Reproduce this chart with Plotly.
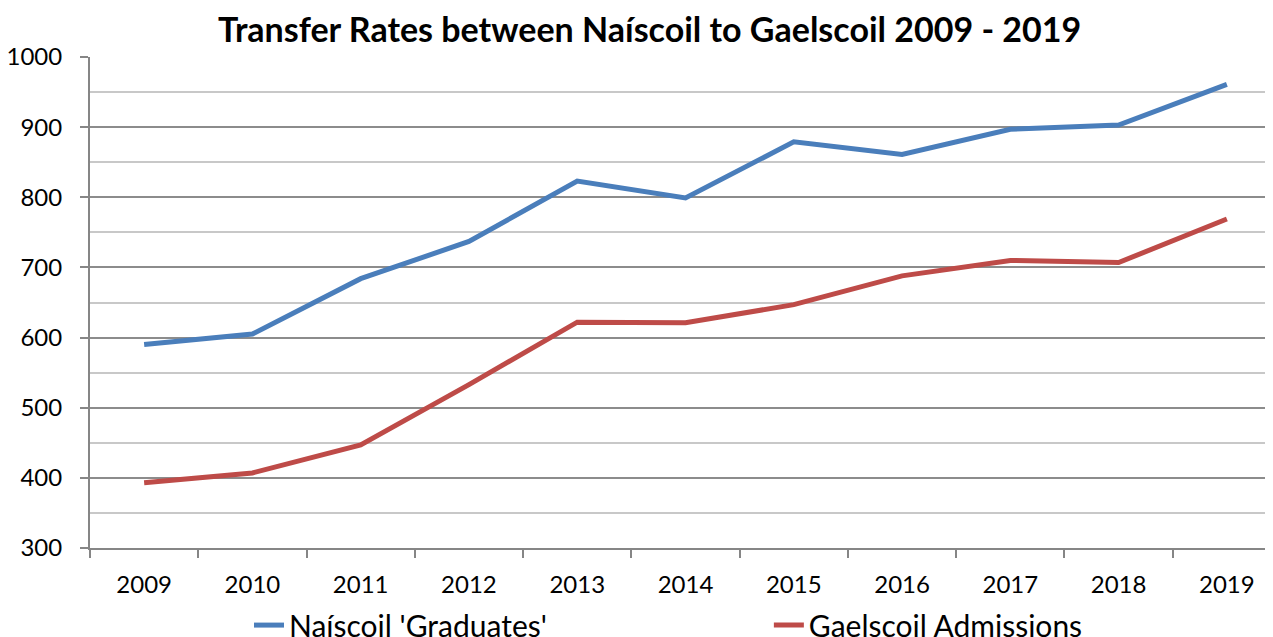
import plotly.graph_objects as go

years = ["2009", "2010", "2011", "2012", "2013", "2014", "2015", "2016", "2017", "2018", "2019"]
naiscoil = [590, 605, 684, 737, 823, 799, 879, 861, 897, 903, 961]
gaelscoil = [393, 407, 447, 533, 622, 621, 647, 688, 710, 707, 769]

font = "Lato, 'Noto Sans', sans-serif"

fig = go.Figure()
fig.add_trace(go.Scatter(x=years, y=naiscoil, mode="lines", name="Naíscoil 'Graduates'",
                         line=dict(color="#4a7ebb", width=5), legend="legend"))
fig.add_trace(go.Scatter(x=years, y=gaelscoil, mode="lines", name="Gaelscoil Admissions",
                         line=dict(color="#be4b48", width=5), legend="legend2"))

# page body has an 8px margin, so offsets below are 8px smaller than in the picture
leg = dict(orientation="h", yanchor="middle", y=-0.157, xanchor="left",
           font=dict(size=30), bgcolor="rgba(0,0,0,0)")
fig.update_layout(
    width=1273, height=637,
    paper_bgcolor="white", plot_bgcolor="white",
    margin=dict(l=82, r=0, t=49, b=97, autoexpand=False),
    font=dict(family=font, size=24, color="black"),
    title=dict(text="<b>Transfer Rates between Naíscoil to Gaelscoil 2009 - 2019</b>",
               x=0.504, xanchor="center", y=0.965, yanchor="middle",
               font=dict(size=34, family=font)),
    showlegend=True,
    legend=dict(leg, x=0.1335),
    legend2=dict(leg, x=0.570),
)
fig.update_xaxes(
    type="category", range=[-0.5, 10.5],
    showline=True, linecolor="#868686", linewidth=2,
    ticks="outside", ticklen=8, tickcolor="#868686", tickwidth=2,
    tickson="boundaries", showgrid=False, ticklabelstandoff=14,
)
fig.update_yaxes(
    range=[300, 1000], dtick=100,
    showline=True, linecolor="#868686", linewidth=2,
    ticks="outside", ticklen=8, tickcolor="#868686", tickwidth=2,
    gridcolor="#8c8c8c", gridwidth=1.5, zeroline=False,
    minor=dict(dtick=50, showgrid=True, gridcolor="#c8c8c8", gridwidth=1.5),
    ticklabelstandoff=13,
)

fig.write_html("out.html")
